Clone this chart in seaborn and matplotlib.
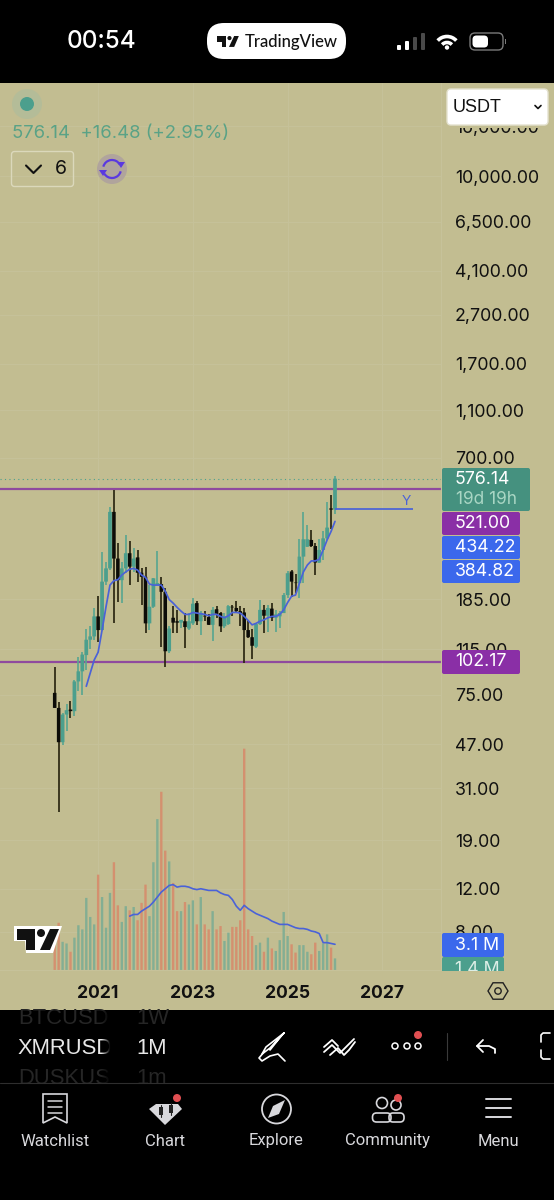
import numpy as np
import pandas as pd
import seaborn as sns
import matplotlib
matplotlib.use("Agg")
import matplotlib.pyplot as plt
from matplotlib.patches import Rectangle, FancyBboxPatch, Circle, Polygon, Arc

# monthly XMR candles, Feb 2020 to Jan 2026
opens = [76.3, 66.2, 47.9, 62.2, 65.2, 64.2, 85, 93.5, 109, 126, 130, 157, 138, 218, 247, 421, 271, 221, 247, 285,
         251, 274, 237, 228, 147, 172, 211, 213, 198, 113, 155, 150, 148, 150, 140, 147, 178, 150, 158, 156,
         145, 168, 162, 143, 146, 172, 170, 165, 163, 138, 129, 118, 146, 167, 158, 169, 155, 157, 162, 192,
         240, 216, 215, 276, 303, 323, 305, 261, 294, 328, 435, 430]
highs = [97.4, 70, 63.2, 69, 70.5, 86.5, 107, 112, 139, 143, 170, 190, 288, 263, 439, 517, 315, 263, 338, 321,
         298, 294, 247, 251, 211, 225, 290, 228, 205, 143, 173, 167, 152, 162, 162, 187, 181, 165, 165, 160,
         171, 173, 163, 162, 175, 175, 182, 173, 170, 152, 140, 147, 183, 175, 175, 179, 167, 165, 195, 240,
         243, 234, 325, 419, 372, 355, 313, 325, 352, 461, 495, 592]
lows = [66.2, 24.8, 46.8, 53, 60.2, 61.2, 77.5, 75, 95, 115, 126, 123, 138, 211, 243, 148, 180, 178, 236, 211,
        239, 218, 175, 134, 138, 170, 211, 118, 97, 111, 134, 134, 141, 116, 138, 145, 145, 132, 150, 145,
        124, 155, 135, 141, 145, 157, 162, 143, 101, 128, 105, 117, 145, 134, 135, 150, 136, 141, 162, 186,
        189, 195, 186, 215, 303, 303, 232, 259, 267, 323, 358, 411]
closes = [66.2, 47.9, 62.2, 64.8, 64.2, 85, 93.5, 109.5, 126, 130, 157, 138, 218, 247, 421, 271, 221, 247, 285, 251,
          271, 237, 228, 147, 172, 225, 215, 198, 113, 140, 148, 148, 152, 142, 150, 177, 150, 162, 157, 145,
          167, 161, 143, 157, 173, 171, 165, 162, 138, 129, 119, 146, 167, 158, 170, 155, 160, 162, 192, 236,
          218, 215, 276, 325, 325, 305, 261, 294, 328, 363, 430, 576.14]
price_ma = [81.2, 92, 104, 112, 138, 172, 211, 220, 222, 232, 239, 245, 247, 243, 232, 227, 213, 211, 211, 211,
            199, 184, 178, 171, 165, 160, 160, 163, 162, 161, 160, 158, 160, 160, 157, 155, 158, 163, 163, 162,
            157, 151, 145, 147, 150, 152, 155, 157, 157, 160, 167, 179, 190, 192, 215, 239, 255, 265, 265, 269,
            294, 323, 350, 384.82]
volumes = [3.2, 5.7, 3.4, 3.2, 2.2, 3.9, 5.4, 4.9, 8.7, 6.4, 5.5, 11.5, 8.8, 5.1, 9.3, 13, 7.8, 5.8, 7.7, 7.2,
           7.6, 6, 8.1, 10.3, 6.5, 13, 18.2, 21.5, 14.4, 13.1, 10.5, 7.1, 7.1, 8.2, 7.9, 8.4, 5.5, 8.8, 5.5, 4.9,
           7.1, 4.9, 5.3, 3.5, 4.5, 5.2, 5.2, 6, 26.7, 4.9, 4.1, 3, 3.3, 2.2, 3.9, 2.6, 2.3, 3.6, 7, 4.1,
           3.1, 2.1, 3, 3, 2.2, 1.9, 3.3, 2.3, 3.2, 4.3, 2.7, 1.4]
volume_ma = [6.5, 6.7, 6.7, 7.1, 7.4, 7.7, 8.2, 8.8, 9.4, 9.8, 10.2, 10.3, 10, 10.1, 10.1, 10, 9.8, 9.7, 9.8, 9.7,
             9.6, 9.6, 9.6, 9.3, 9.1, 9, 8.5, 7.7, 7.2, 7.8, 7.4, 7.1, 6.8, 6.6, 6.4, 6.2, 5.9, 5.7, 5.5, 5.5,
             5.5, 5.3, 5.1, 5, 5, 4.9, 4.7, 4.6, 4.4, 3.3, 3.3, 3.2, 3.1]
# vol colour follows the screenshot, it does not always match the candle
vol_up = [0, 0, 1, 1, 0, 1, 1, 1, 1, 1, 1, 0, 1, 1, 1, 0, 0, 1, 1, 0,
          1, 0, 0, 0, 1, 1, 1, 0, 0, 1, 0, 0, 1, 0, 1, 1, 0, 1, 0, 0,
          1, 0, 0, 1, 1, 0, 0, 0, 0, 0, 0, 1, 1, 0, 1, 0, 1, 1, 1, 1,
          0, 0, 1, 1, 1, 0, 0, 1, 1, 1, 0, 1]

resistance = 521.0
support = 102.17
last_price = 576.14
y_level = 434.22
year_labels = ["2021", "2023", "2025", "2027"]
year_index = [11, 35, 59, 83]
price_ticks = [16000, 10000, 6500, 4100, 2700, 1700, 1100, 700, 185, 115, 75, 47, 31, 19, 12, 8]

BG = "#c2bd91"
GRID = "#c6c29a"
TEAL = "#4c9f8d"
TEAL_VOL = "#83ae93"
ORANGE_VOL = "#d4906f"
DARK = "#0c0c08"
WICK = "#2b2712"
PURPLE = "#8f4a9e"
BLUE = "#4a62d8"
SCALE_SIZE = 12.8

sns.set_style("white")
plt.rcParams["font.family"] = ["Inter", "DejaVu Sans"]

W, H = 554, 1200
fig = plt.figure(figsize=(W / 100, H / 100), dpi=100, facecolor=BG)

# chart pane in screen pixels
top_px, bot_px, right_px = 83, 970, 441
px_per_decade = 244.0
x0_px, x_step = 54.7, 3.948
ax = fig.add_axes([0, (H - bot_px) / H, right_px / W, (bot_px - top_px) / H])
ax.set_facecolor(BG)
ax_vol = ax.twinx()

idx = np.arange(len(closes))
o, h, l, c = map(np.array, (opens, highs, lows, closes))
up = c >= o

# volume pane
vol_df = pd.DataFrame({"i": idx, "vol": volumes, "side": ["up" if v else "down" for v in vol_up]})
sns.barplot(data=vol_df, x="i", y="vol", hue="side", palette={"up": TEAL_VOL, "down": ORANGE_VOL},
            native_scale=True, dodge=False, width=0.6, saturation=1, errorbar=None, legend=False,
            linewidth=0, edgecolor="none", ax=ax_vol)
sns.lineplot(x=idx[-len(volume_ma):], y=volume_ma, color=BLUE, lw=1.2, ax=ax_vol)
ax_vol.set_ylim(0, (bot_px - top_px) / 8.29)
ax_vol.set_yticks([])
ax_vol.set_xlabel("")
ax_vol.set_ylabel("")

# candles
ax.set_yscale("log")
ax.vlines(idx[up], l[up], h[up], color="#5ba690", lw=1.25, zorder=3)
ax.vlines(idx[~up], l[~up], h[~up], color=WICK, lw=1.25, zorder=3)
up_bars = ax.bar(idx[up], (c - o)[up], bottom=o[up], width=0.95, color=TEAL, lw=0, zorder=3)
down_bars = ax.bar(idx[~up], (o - c)[~up], bottom=c[~up], width=0.9, color=DARK, lw=0, zorder=4)
for b in list(up_bars) + list(down_bars) + list(ax_vol.patches):
    b.set_snap(False)
sns.lineplot(x=idx[-len(price_ma):], y=price_ma, color=BLUE, lw=1.25, ax=ax, zorder=5)

ax.axhline(resistance, color=PURPLE, lw=1.6, zorder=2)
ax.axhline(support, color=PURPLE, lw=1.6, zorder=2)
ax.axhline(last_price, color=TEAL, lw=0.8, ls=(0, (1, 3)), zorder=2)
ax.hlines(y_level, 71, 90.8, color=BLUE, lw=1.25, zorder=5)
ax.text(89, y_level * 1.008, "Y", color=BLUE, fontsize=10, ha="center", va="bottom", zorder=5,
        family="Liberation Sans")

ax.set_xlim((0 - x0_px) / x_step, (right_px - x0_px) / x_step)
ax.set_ylim(700 * 10 ** ((458 - bot_px) / px_per_decade), 700 * 10 ** ((458 - top_px) / px_per_decade))
ax_vol.set_xlim(ax.get_xlim())
ax.yaxis.tick_right()
ax.yaxis.set_label_position("right")
ax.minorticks_off()
ax.set_yticks(price_ticks, [f"{p:,.2f}" for p in price_ticks])
ax.set_xticks(year_index, year_labels, fontweight="bold")
ax.tick_params(axis="y", length=0, pad=10, labelsize=SCALE_SIZE, labelcolor="#111111")
ax.tick_params(axis="x", length=0, pad=10.5, labelsize=12.6, labelcolor="#111111")
ax.grid(True, color=GRID, lw=0.7, zorder=0)
ax.set_axisbelow(True)
ax.set_xlabel("")
ax.set_ylabel("")
for a in (ax, ax_vol):
    for name, spine in a.spines.items():
        spine.set_visible(name in ("right", "bottom"))
        spine.set_color(GRID)
        spine.set_linewidth(0.8)

# everything around the chart, in screen pixels
ui = fig.add_axes([0, 0, 1, 1], zorder=10)
ui.set_xlim(0, W)
ui.set_ylim(H, 0)
ui.axis("off")
ui.patch.set_visible(False)


def box(x0, y0, x1, y1, fc, ec="none", r=2, lw=1, z=2):
    p = FancyBboxPatch((x0 + r, y0 + r), x1 - x0 - 2 * r, y1 - y0 - 2 * r, boxstyle=f"round,pad={r}",
                       fc=fc, ec=ec, lw=lw, zorder=z)
    ui.add_patch(p)
    return p


def line(xs, ys, color="white", lw=1.2, z=4):
    ui.plot(xs, ys, color=color, lw=lw, zorder=z, solid_capstyle="round", solid_joinstyle="round")


def txt(x, y, s, size=SCALE_SIZE, color="#111111", ha="left", z=5, **kw):
    return ui.text(x, y, s, fontsize=size, color=color, ha=ha, va="center", zorder=z, **kw)


def tv_logo(x, y, s, outline=False):
    if outline:
        ui.add_patch(Polygon([(x - 3 * s, y - 3 * s), (x + 45 * s, y - 3 * s), (x + 36 * s, y + 24 * s),
                              (x + 9 * s, y + 24 * s), (x + 8 * s, y + 12 * s), (x - 3 * s, y + 12 * s)],
                             fc="white", ec="none", zorder=4))
    ui.add_patch(Polygon([(x, y), (x + 18 * s, y), (x + 18 * s, y + 21 * s), (x + 9 * s, y + 21 * s),
                          (x + 9 * s, y + 11 * s), (x, y + 11 * s)], fc="#111111", ec="none", zorder=5))
    ui.add_patch(Circle((x + 24 * s, y + 4 * s), 4 * s, fc="#111111", ec="none", zorder=5))
    ui.add_patch(Polygon([(x + 33 * s, y), (x + 42 * s, y), (x + 33 * s, y + 21 * s), (x + 23 * s, y + 21 * s)],
                         fc="#111111", ec="none", zorder=5))


# status bar
ui.add_patch(Rectangle((0, 0), W, top_px, fc="black", ec="none", zorder=1))
txt(101, 42, "00:54", size=17.5, color="white", ha="center", fontweight="medium")
box(207, 23, 346, 59, "white", r=17)
tv_logo(217, 36, 0.52)
txt(245, 42, "TradingView", size=12, family="Lato", fontweight="medium")
for bx, by, col in zip([397, 405, 413, 421], [45, 41, 37, 33], ["white", "white", "#4a4a4a", "#4a4a4a"]):
    box(bx, by, bx + 4, 50, col, r=1)
for d, lw_ in zip([13, 25], [2.6, 2.6]):
    ui.add_patch(Arc((447, 49), d, d, theta1=222, theta2=318, color="white", lw=lw_, zorder=4))
ui.add_patch(Circle((447, 47.5), 2.2, fc="white", ec="none", zorder=4))
box(470, 33, 503, 50, "none", ec="#7a7a7a", r=5)
box(472.5, 35.5, 488, 47.5, "white", r=4)
ui.add_patch(Rectangle((505, 39), 1.3, 5, fc="#7a7a7a", ec="none", zorder=4))

# legend area
ui.add_patch(Circle((27, 104), 15, fc="#b4bc98", ec="none", zorder=3))
ui.add_patch(Circle((27, 104), 7, fc=TEAL, ec="none", zorder=4))
txt(12, 133, "576.14  +16.48 (+2.95%)", size=13.3, color="#5aa286")
box(11.5, 151.5, 73.5, 186.5, "none", ec="#dbd8bb", r=3, lw=1)
line([26, 33.5, 41], [165.5, 173, 165.5], color="#111111", lw=1.5)
txt(55, 169, "6", size=14)
ui.add_patch(Circle((112, 169), 15, fc="#b0a49c", ec="none", zorder=3))
ui.add_patch(Arc((112, 169), 18, 18, theta1=195, theta2=330, color="#5a38e0", lw=1.6, zorder=4))
ui.add_patch(Arc((112, 169), 18, 18, theta1=15, theta2=150, color="#5a38e0", lw=1.6, zorder=4))
ui.add_patch(Polygon([(117, 162), (125, 162), (121, 168)], fc="#5a38e0", ec="none", zorder=4))
ui.add_patch(Polygon([(99, 170), (107, 170), (103, 176)], fc="#5a38e0", ec="none", zorder=4))

# USDT select, the 16,000 tick only shows below it
ui.add_patch(Rectangle((442, top_px), W - 442, 45, fc=BG, ec="none", zorder=1))
box(447, 89, 548, 125, "white", ec="#e4e2cf", r=4, z=6)
txt(453, 107, "USDT", size=13, z=7, family="Liberation Sans")
line([535, 538, 541], [105.5, 108.5, 105.5], color="#111111", lw=1.2, z=7)

# price labels on the scale
box(442, 468, 530, 511, "#45917f", r=2)
txt(455, 480, f"{last_price:.2f}", color="white")
txt(456, 499, "19d 19h", color="#a9d6c4", size=12.4)
box(442, 512, 520, 535, "#8a2fa6", r=2)
txt(455, 524, f"{resistance:.2f}", color="white")
box(442, 536, 520, 559, "#3b68ec", r=2)
txt(455, 548, f"{y_level:.2f}", color="white")
box(442, 560, 520, 583, "#3b68ec", r=2)
txt(455, 572, f"{price_ma[-1]:.2f}", color="white")
box(442, 650, 520, 674, "#8a2fa6", r=2)
txt(455, 662, f"{support:.2f}", color="white")
box(442, 957, 504, 975, "#4c9f8d", r=2, z=2)
clip_vol = Rectangle((442, 950), 62, 20, transform=ui.transData)
txt(455, 969, f"{volumes[-1]:.1f} M", color="#dbeee6").set_clip_path(clip_vol)
ui.add_patch(Rectangle((442, 970.5), 62, 7, fc=BG, ec="none", zorder=6))
box(442, 933, 504, 957, "#3b68ec", r=2, z=3)
txt(455, 945, f"{volume_ma[-1]:.1f} M", color="white")

# watermark and hex button
tv_logo(17, 929, 1.0, outline=True)
hx = 498 + 10 * np.cos(np.radians(np.arange(0, 360, 60)))
hy = 991 + 9.5 * np.sin(np.radians(np.arange(0, 360, 60)))
ui.add_patch(Polygon(np.c_[hx, hy], fc="none", ec="#222222", lw=1.0, zorder=4))
ui.add_patch(Circle((498, 991), 3.2, fc="none", ec="#222222", lw=1.0, zorder=4))

# bottom toolbar
ui.add_patch(Rectangle((0, 1010), W, H - 1010, fc="black", ec="none", zorder=1))
clip_tb = Rectangle((0, 1010), W, 190, transform=ui.transData)
for y, sym, tf, col in [(1018, "BTCUSD", "1W", "#262626"), (1048, "XMRUSD", "1M", "#e8e8e8"),
                        (1078, "DUSKUS", "1m", "#262626")]:
    txt(18, y, sym, size=15.8, color=col, family="Liberation Sans").set_clip_path(clip_tb)
    txt(136, y, tf, size=15.8, color=col, family="Liberation Sans").set_clip_path(clip_tb)
# fade the symbol out before the timeframe
grad = np.zeros((1, 60, 4))
grad[0, :, 3] = np.clip(np.linspace(-0.6, 3.5, 60), 0, 1)
ui.imshow(grad, extent=(96, 132, 1083, 1010), aspect="auto", zorder=6)
ui.set_xlim(0, W)
ui.set_ylim(H, 0)
ui.plot([0, W], [1083, 1083], color="#2e2e2e", lw=0.8, zorder=7)

# pen
line([284, 270, 262, 266, 284, 282, 270], [1033, 1048, 1054, 1047, 1033, 1035, 1050])
line([264, 259, 262, 270, 278, 285], [1052, 1058, 1061, 1056, 1054, 1061])
# trend lines icon
line([324, 332, 340, 345, 354], [1052, 1045, 1053, 1048, 1039], lw=1.3)
line([330, 338, 344, 349, 355], [1055, 1048, 1055, 1050, 1042], lw=1.3)
line([324, 332, 338], [1047, 1040, 1046], lw=1.3)
for dx in (395, 407, 418):
    ui.add_patch(Circle((dx, 1046), 3, fc="none", ec="white", lw=1.1, zorder=4))
ui.add_patch(Circle((418, 1035), 4, fc="#e04f52", ec="none", zorder=5))
ui.plot([447, 447], [1033, 1060], color="#3a3a3a", lw=0.8, zorder=4)
# undo
line([483, 477, 483], [1040, 1046, 1052], lw=1.3)
line([477, 489, 495, 495], [1046, 1046, 1049, 1053], lw=1.3)
# crop bracket, cut by the screen edge
line([550, 543, 541, 541], [1033, 1033, 1035, 1042], lw=1.2)
line([550, 543, 541, 541], [1059, 1059, 1057, 1050], lw=1.2)

# tab bar
LIGHT = "#d8d8dc"
for x, name in zip([55, 165, 276, 387, 498], ["Watchlist", "Chart", "Explore", "Community", "Menu"]):
    txt(x, 1141, name, size=12, color=LIGHT, ha="center", family="Roboto")
ui.add_patch(Polygon([(43, 1094), (67, 1094), (67, 1123), (55, 1117), (43, 1123)], fc="none", ec=LIGHT, lw=1.2, zorder=4))
for yy in (1101, 1107, 1113):
    line([48, 62], [yy, yy], color=LIGHT, lw=1.1)
ui.add_patch(Polygon([(156, 1104), (178, 1104), (182, 1109), (165, 1125), (149, 1109)], fc=LIGHT, ec="none", zorder=4))
for cx, cy in ((161, 1107), (171, 1105)):
    ui.add_patch(Rectangle((cx - 2, cy), 4, 8, fc="#222222", ec="none", zorder=5))
    line([cx, cx], [cy - 2, cy + 10], color="#222222", lw=0.8, z=5)
ui.add_patch(Circle((177, 1098), 4, fc="#e04f52", ec="none", zorder=6))
ui.add_patch(Circle((276.5, 1109), 14.5, fc="none", ec=LIGHT, lw=1.3, zorder=4))
ui.add_patch(Polygon([(285, 1100), (279, 1114), (268, 1118), (273, 1106)], fc=LIGHT, ec="none", zorder=4))
ui.add_patch(Circle((382, 1103), 5.5, fc="none", ec=LIGHT, lw=1.2, zorder=4))
ui.add_patch(Circle((396, 1105), 5, fc="none", ec=LIGHT, lw=1.2, zorder=4))
box(372.5, 1113, 391, 1122, "none", ec=LIGHT, r=4, lw=1.2)
box(389, 1113, 404, 1122, "none", ec=LIGHT, r=4, lw=1.2)
ui.add_patch(Circle((398, 1098), 4, fc="#e04f52", ec="none", zorder=6))
for yy in (1099, 1108, 1117):
    line([486, 511], [yy, yy], color=LIGHT, lw=1.4)

fig.savefig("out.png", dpi=100, facecolor=BG)
